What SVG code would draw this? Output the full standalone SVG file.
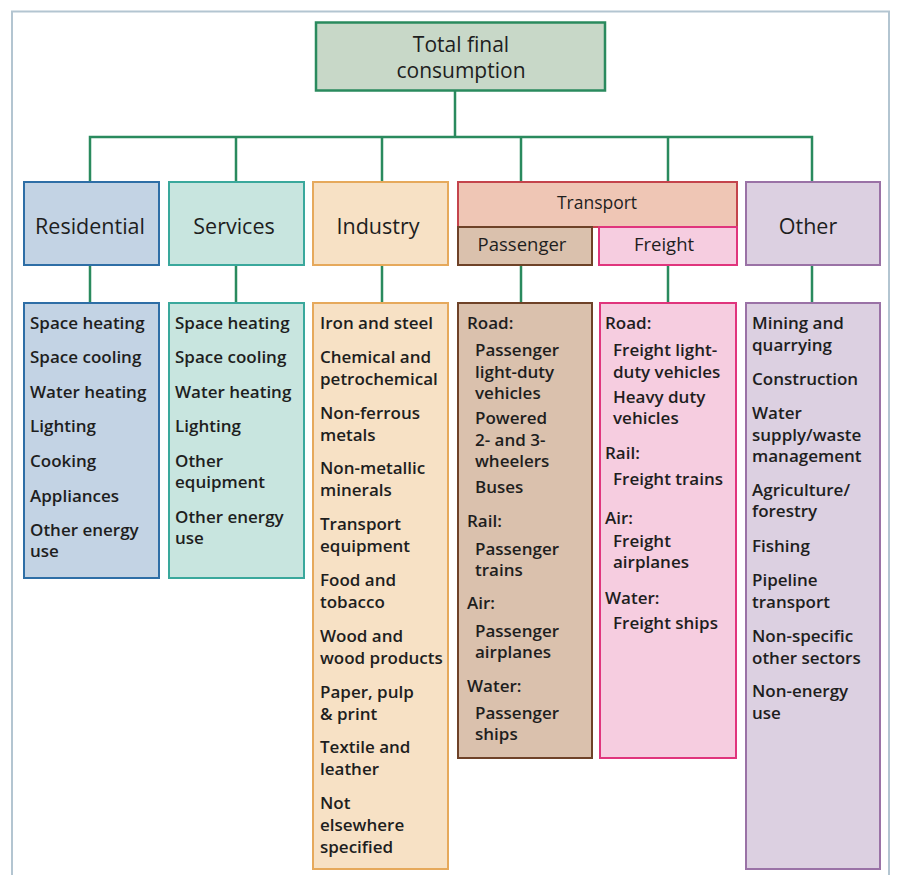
<svg xmlns="http://www.w3.org/2000/svg" width="897" height="875" viewBox="0 0 897 875">
<style>
  text { font-family: "Open Sans", "Liberation Sans", sans-serif; fill: #1e1e1e; }
  .item { font-size: 17px; font-weight: 600; }
  .head { font-size: 21.5px; text-anchor: middle; }
  .top { font-size: 21px; text-anchor: middle; }
  .tr { font-size: 17.5px; text-anchor: middle; }
  .sub { font-size: 18.5px; text-anchor: middle; }
  .conn { stroke: #2a8a5e; stroke-width: 2.5; fill: none; }
</style>
<rect width="897" height="875" fill="#ffffff"/>
<path d="M12,875 V11.5 H889 V875" fill="none" stroke="#b3c5d1" stroke-width="2"/>

<g id="connectors">
  <path class="conn" d="M455,91 V137 M90,182 V137 H812 V182 M236,137 V182 M382,137 V182 M521,137 V182 M668,137 V182"/>
  <path class="conn" d="M90,265 V303 M236,265 V303 M382,265 V303 M521,265 V303 M668,265 V303 M812,265 V303"/>
</g>

<g id="total">
  <rect x="316" y="22.5" width="289" height="68" fill="#c8d8c8" stroke="#2a8a5e" stroke-width="2.5"/>
  <text class="top" x="461" y="52">Total final</text>
  <text class="top" x="461" y="78">consumption</text>
</g>

<g id="residential">
  <rect x="24" y="182" width="135" height="83" fill="#c3d3e4" stroke="#2e6ea6" stroke-width="2"/>
  <text class="head" x="90" y="234">Residential</text>
</g>
<g id="services">
  <rect x="169" y="182" width="135" height="83" fill="#c8e5df" stroke="#3aa89c" stroke-width="2"/>
  <text class="head" x="234" y="234">Services</text>
</g>
<g id="industry">
  <rect x="313" y="182" width="135" height="83" fill="#f7e1c5" stroke="#e6a95c" stroke-width="2"/>
  <text class="head" x="378" y="234">Industry</text>
</g>
<g id="transport">
  <rect x="458" y="182" width="279" height="45" fill="#efc6b5" stroke="#c4444c" stroke-width="2"/>
  <text class="tr" x="597" y="209">Transport</text>
</g>
<g id="passenger">
  <rect x="458" y="227" width="134" height="38" fill="#dac1ad" stroke="#6e4228" stroke-width="2"/>
  <text class="sub" x="522" y="251">Passenger</text>
</g>
<g id="freight">
  <rect x="599" y="227" width="138" height="38" fill="#f6cde0" stroke="#e0357d" stroke-width="2"/>
  <text class="sub" x="664" y="251">Freight</text>
</g>
<g id="other">
  <rect x="746" y="182" width="134" height="83" fill="#dcd0e1" stroke="#9a72a6" stroke-width="2"/>
  <text class="head" x="808" y="234">Other</text>
</g>

<g id="residential-list">
  <rect x="24" y="303" width="135" height="275" fill="#c3d3e4" stroke="#2e6ea6" stroke-width="2"/>
  <text class="item" x="30" y="329">Space heating</text>
  <text class="item" x="30" y="363">Space cooling</text>
  <text class="item" x="30" y="398">Water heating</text>
  <text class="item" x="30" y="432">Lighting</text>
  <text class="item" x="30" y="467">Cooking</text>
  <text class="item" x="30" y="502">Appliances</text>
  <text class="item" x="30" y="536">Other energy</text>
  <text class="item" x="30" y="557">use</text>
</g>

<g id="services-list">
  <rect x="169" y="303" width="135" height="275" fill="#c8e5df" stroke="#3aa89c" stroke-width="2"/>
  <text class="item" x="175" y="329">Space heating</text>
  <text class="item" x="175" y="363">Space cooling</text>
  <text class="item" x="175" y="398">Water heating</text>
  <text class="item" x="175" y="432">Lighting</text>
  <text class="item" x="175" y="467">Other</text>
  <text class="item" x="175" y="488">equipment</text>
  <text class="item" x="175" y="523">Other energy</text>
  <text class="item" x="175" y="544">use</text>
</g>

<g id="industry-list">
  <rect x="313" y="303" width="135" height="566" fill="#f7e1c5" stroke="#e6a95c" stroke-width="2"/>
  <text class="item" x="320" y="329">Iron and steel</text>
  <text class="item" x="320" y="363">Chemical and</text>
  <text class="item" x="320" y="385">petrochemical</text>
  <text class="item" x="320" y="419">Non-ferrous</text>
  <text class="item" x="320" y="441">metals</text>
  <text class="item" x="320" y="474">Non-metallic</text>
  <text class="item" x="320" y="496">minerals</text>
  <text class="item" x="320" y="530">Transport</text>
  <text class="item" x="320" y="552">equipment</text>
  <text class="item" x="320" y="586">Food and</text>
  <text class="item" x="320" y="608">tobacco</text>
  <text class="item" x="320" y="642">Wood and</text>
  <text class="item" x="320" y="664">wood products</text>
  <text class="item" x="320" y="698">Paper, pulp</text>
  <text class="item" x="320" y="720">&amp; print</text>
  <text class="item" x="320" y="753">Textile and</text>
  <text class="item" x="320" y="775">leather</text>
  <text class="item" x="320" y="809">Not</text>
  <text class="item" x="320" y="831">elsewhere</text>
  <text class="item" x="320" y="853">specified</text>
</g>

<g id="passenger-list">
  <rect x="458" y="303" width="134" height="455" fill="#dac1ad" stroke="#6e4228" stroke-width="2"/>
  <text class="item" x="467" y="329">Road:</text>
  <text class="item" x="475" y="356">Passenger</text>
  <text class="item" x="475" y="378">light-duty</text>
  <text class="item" x="475" y="399">vehicles</text>
  <text class="item" x="475" y="424">Powered</text>
  <text class="item" x="475" y="446">2- and 3-</text>
  <text class="item" x="475" y="467">wheelers</text>
  <text class="item" x="475" y="493">Buses</text>
  <text class="item" x="467" y="527">Rail:</text>
  <text class="item" x="475" y="555">Passenger</text>
  <text class="item" x="475" y="576">trains</text>
  <text class="item" x="467" y="609">Air:</text>
  <text class="item" x="475" y="637">Passenger</text>
  <text class="item" x="475" y="658">airplanes</text>
  <text class="item" x="467" y="692">Water:</text>
  <text class="item" x="475" y="719">Passenger</text>
  <text class="item" x="475" y="740">ships</text>
</g>

<g id="freight-list">
  <rect x="600" y="303" width="136" height="455" fill="#f6cde0" stroke="#e0357d" stroke-width="2"/>
  <text class="item" x="605" y="329">Road:</text>
  <text class="item" x="613" y="356">Freight light-</text>
  <text class="item" x="613" y="378">duty vehicles</text>
  <text class="item" x="613" y="403">Heavy duty</text>
  <text class="item" x="613" y="424">vehicles</text>
  <text class="item" x="605" y="459">Rail:</text>
  <text class="item" x="613" y="485">Freight trains</text>
  <text class="item" x="605" y="524">Air:</text>
  <text class="item" x="613" y="547">Freight</text>
  <text class="item" x="613" y="568">airplanes</text>
  <text class="item" x="605" y="604">Water:</text>
  <text class="item" x="613" y="629">Freight ships</text>
</g>

<g id="other-list">
  <rect x="746" y="303" width="134" height="566" fill="#dcd0e1" stroke="#9a72a6" stroke-width="2"/>
  <text class="item" x="752" y="329">Mining and</text>
  <text class="item" x="752" y="351">quarrying</text>
  <text class="item" x="752" y="385">Construction</text>
  <text class="item" x="752" y="419">Water</text>
  <text class="item" x="752" y="441">supply/waste</text>
  <text class="item" x="752" y="462">management</text>
  <text class="item" x="752" y="496">Agriculture/</text>
  <text class="item" x="752" y="517">forestry</text>
  <text class="item" x="752" y="552">Fishing</text>
  <text class="item" x="752" y="586">Pipeline</text>
  <text class="item" x="752" y="608">transport</text>
  <text class="item" x="752" y="642">Non-specific</text>
  <text class="item" x="752" y="664">other sectors</text>
  <text class="item" x="752" y="697">Non-energy</text>
  <text class="item" x="752" y="719">use</text>
</g>
</svg>
